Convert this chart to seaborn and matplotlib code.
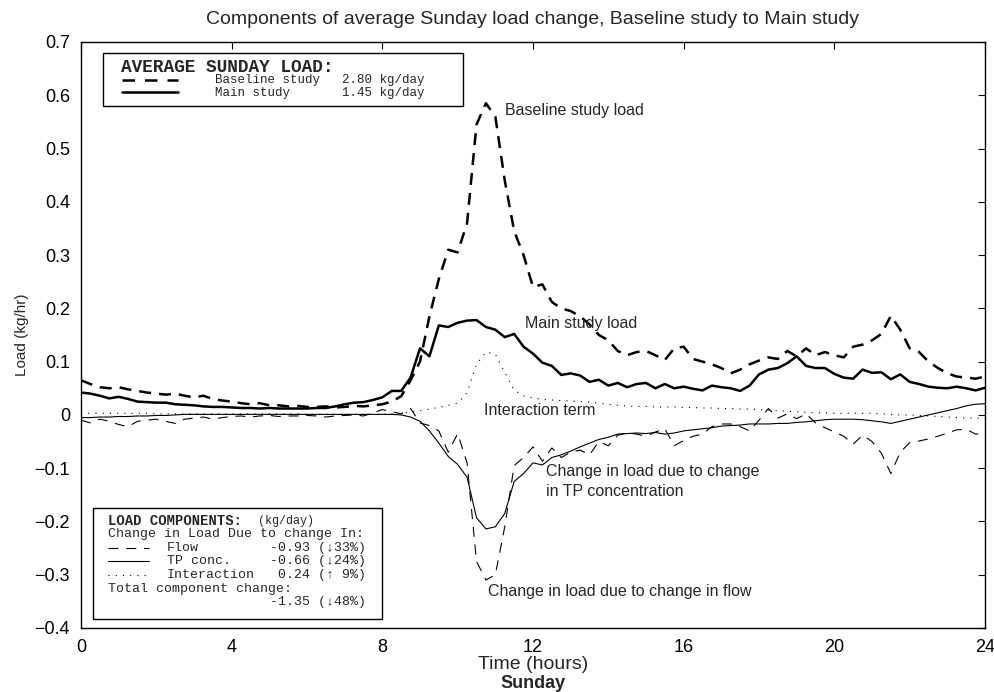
import numpy as np
import pandas as pd
import matplotlib
matplotlib.use("Agg")
import matplotlib.pyplot as plt
import seaborn as sns
from matplotlib.lines import Line2D
from matplotlib.patches import Rectangle
from matplotlib.ticker import FuncFormatter

hours = np.arange(0, 24.01, 0.25)

baseline = [
    0.065, 0.058, 0.052, 0.050,  0.052, 0.048, 0.045, 0.042,
    0.040, 0.038, 0.040, 0.036,  0.033, 0.036, 0.030, 0.027,
    0.025, 0.022, 0.020, 0.022,  0.018, 0.018, 0.016, 0.017,
    0.015, 0.015, 0.016, 0.014,  0.015, 0.017, 0.016, 0.018,
    0.020, 0.025, 0.035, 0.065,  0.100, 0.185, 0.255, 0.310,
    0.305, 0.360, 0.545, 0.585,  0.560, 0.440, 0.345, 0.300,
    0.240, 0.245, 0.212, 0.200,  0.195, 0.185, 0.170, 0.150,
    0.140, 0.120, 0.112, 0.118,  0.120, 0.112, 0.103, 0.125,
    0.128, 0.105, 0.100, 0.095,  0.088, 0.078, 0.085, 0.095,
    0.102, 0.108, 0.105, 0.120,  0.110, 0.125, 0.112, 0.118,
    0.112, 0.108, 0.128, 0.132,  0.140, 0.152, 0.186, 0.160,
    0.125, 0.118, 0.100, 0.088,  0.078, 0.072, 0.070, 0.068,
    0.072]

main = [
    0.042, 0.040, 0.036, 0.031,  0.034, 0.030, 0.025, 0.024,
    0.023, 0.023, 0.020, 0.019,  0.018, 0.016, 0.015, 0.015,
    0.014, 0.013, 0.013, 0.012,  0.013, 0.012, 0.012, 0.012,
    0.012, 0.013, 0.013, 0.016,  0.020, 0.023, 0.024, 0.028,
    0.033, 0.045, 0.045, 0.070,  0.125, 0.110, 0.168, 0.165,
    0.173, 0.177, 0.178, 0.165,  0.160, 0.146, 0.152, 0.128,
    0.115, 0.098, 0.092, 0.075,  0.078, 0.074, 0.062, 0.066,
    0.055, 0.060, 0.052, 0.058,  0.060, 0.050, 0.058, 0.050,
    0.053, 0.049, 0.046, 0.055,  0.052, 0.050, 0.045, 0.055,
    0.076, 0.085, 0.088, 0.097,  0.110, 0.092, 0.088, 0.088,
    0.077, 0.070, 0.068, 0.085,  0.079, 0.080, 0.067, 0.076,
    0.062, 0.058, 0.053, 0.051,  0.050, 0.053, 0.050, 0.046,
    0.051]

interaction = [
    0.003, 0.003, 0.003, 0.003,  0.003, 0.003, 0.003, 0.003,
    0.002, 0.002, 0.002, 0.002,  0.002, 0.002, 0.002, 0.002,
    0.002, 0.002, 0.002, 0.002,  0.002, 0.002, 0.002, 0.002,
    0.001, 0.001, 0.001, 0.001,  0.001, 0.001, 0.001, 0.001,
    0.001, 0.002, 0.003, 0.005,  0.008, 0.011, 0.014, 0.018,
    0.022, 0.042, 0.095, 0.118,  0.114, 0.080, 0.046, 0.036,
    0.032, 0.029, 0.028, 0.027,  0.026, 0.025, 0.024, 0.022,
    0.020, 0.018, 0.017, 0.016,  0.016, 0.015, 0.015, 0.015,
    0.014, 0.014, 0.013, 0.013,  0.012, 0.012, 0.011, 0.011,
    0.010, 0.009, 0.008, 0.007,  0.006, 0.005, 0.004, 0.004,
    0.003, 0.003, 0.003, 0.003,  0.003, 0.002, 0.001, 0.000,
    0.000, -0.001, -0.002, -0.003,  -0.004, -0.005, -0.006, -0.006,
    -0.007]

tp_conc = [
    -0.005, -0.005, -0.004, -0.004,  -0.003, -0.003, -0.002, -0.002,
    -0.001, -0.001, 0.000, 0.001,  0.001, 0.001, 0.001, 0.001,
    0.001, 0.001, 0.001, 0.001,  0.001, 0.001, 0.001, 0.001,
    0.001, 0.001, 0.001, 0.001,  0.001, 0.001, 0.001, 0.001,
    0.001, 0.001, 0.000, -0.004,  -0.012, -0.030, -0.053, -0.078,
    -0.093, -0.117, -0.193, -0.214,  -0.210, -0.185, -0.125, -0.110,
    -0.090, -0.094, -0.080, -0.075,  -0.068, -0.060, -0.053, -0.046,
    -0.042, -0.036, -0.035, -0.034,  -0.035, -0.033, -0.036, -0.034,
    -0.030, -0.028, -0.026, -0.024,  -0.021, -0.020, -0.019, -0.017,
    -0.017, -0.017, -0.016, -0.016,  -0.014, -0.013, -0.011, -0.009,
    -0.008, -0.008, -0.008, -0.009,  -0.011, -0.013, -0.016, -0.012,
    -0.008, -0.004, 0.000, 0.004,  0.008, 0.012, 0.017, 0.020,
    0.021]

flow = [
    -0.010, -0.015, -0.008, -0.012,  -0.018, -0.022, -0.012, -0.010,
    -0.008, -0.012, -0.016, -0.008,  -0.006, -0.004, -0.008, -0.005,
    -0.003, -0.002, -0.004, -0.002,  -0.001, -0.003, -0.002, -0.002,
    -0.001, -0.002, -0.004, -0.002,  -0.001, 0.000, -0.002, 0.004,
    0.010, 0.006, 0.002, 0.012,  -0.015, -0.020, -0.030, -0.070,
    -0.035, -0.090, -0.275, -0.310,  -0.300, -0.210, -0.095, -0.080,
    -0.060, -0.087, -0.062, -0.080,  -0.070, -0.066, -0.075, -0.050,
    -0.058, -0.038, -0.034, -0.036,  -0.040, -0.032, -0.026, -0.058,
    -0.048, -0.040, -0.036, -0.022,  -0.017, -0.017, -0.022, -0.030,
    -0.010, 0.012, -0.006, 0.002,  -0.007, 0.002, -0.015, -0.024,
    -0.032, -0.040, -0.055, -0.038,  -0.050, -0.072, -0.110, -0.070,
    -0.052, -0.049, -0.045, -0.040,  -0.034, -0.028, -0.027, -0.036,
    -0.035]

x_ticks = [0, 4, 8, 12, 16, 20, 24]
y_ticks = [-0.4, -0.3, -0.2, -0.1, 0.0, 0.1, 0.2, 0.3, 0.4, 0.5, 0.6, 0.7]

df = pd.DataFrame({"hours": hours, "baseline": baseline, "main": main,
                   "interaction": interaction, "tp": tp_conc, "flow": flow})

sns.set_style("white")
plt.rcParams["font.family"] = ["Liberation Sans", "DejaVu Sans"]

W, H = 995, 692
fig = plt.figure(figsize=(W / 100, H / 100), dpi=100)


def fx(x):
    return x / W


def fy(y):
    return 1 - y / H


ax = fig.add_axes([fx(81), fy(628), (985 - 81) / W, (628 - 42) / H])

styles = [
    ("baseline", 1.8, (0, (4.8, 3.2))),
    ("main", 1.8, "-"),
    ("interaction", 0.8, (0, (1, 5.5))),
    ("tp", 0.8, "-"),
    ("flow", 0.8, (0, (9, 7))),
]
for col, lw, ls in styles:
    sns.lineplot(data=df, x="hours", y=col, ax=ax, color="black", linewidth=lw)
    ax.lines[-1].set_linestyle(ls)

ax.set_xlim(0, 24)
ax.set_ylim(-0.4, 0.7)
ax.set_xticks(x_ticks)
ax.set_yticks(y_ticks)
ax.yaxis.set_major_formatter(FuncFormatter(
    lambda v, p: "0" if abs(v) < 1e-9 else f"{v:.1f}".replace("-", "\u2212")))
ax.tick_params(direction="in", length=5, width=0.8, top=True, right=True,
               labelsize=13, colors="black", pad=8)
for s in ax.spines.values():
    s.set_visible(True)
    s.set_color("black")
    s.set_linewidth(1.0)
ax.set_xlabel("Time (hours)", fontsize=14, labelpad=0)
ax.set_ylabel("Load (kg/hr)", fontsize=11, labelpad=4)

fig.text(fx(533), fy(683), "Sunday", fontsize=13, fontweight="bold",
         ha="center", va="center")
fig.text(fx(533), fy(19),
         "Components of average Sunday load change, Baseline study to Main study",
         fontsize=14, ha="center", va="center")

# annotations
ann = dict(fontsize=11.5, ha="left", va="center")
ax.text(11.26, 0.572, "Baseline study load", **ann)
ax.text(11.79, 0.171, "Main study load", **ann)
ax.text(10.7, 0.0075, "Interaction term", **ann)
ax.text(12.34, -0.106, "Change in load due to change", **ann)
ax.text(12.34, -0.143, "in TP concentration", **ann)
ax.text(10.8, -0.331, "Change in load due to change in flow", **ann)

mono = ["Liberation Mono", "DejaVu Sans Mono"]

# Top legend box
fig.add_artist(Rectangle((fx(103), fy(106)), (463 - 103) / W, (106 - 53) / H,
                         transform=fig.transFigure, facecolor="white",
                         edgecolor="black", linewidth=1.0, zorder=5))
fig.text(fx(121), fy(67), "AVERAGE SUNDAY LOAD:", family=mono, fontsize=12.8,
         fontweight="bold", ha="left", va="center", zorder=6)
fig.add_artist(Line2D([fx(122), fx(178)], [fy(80), fy(80)], transform=fig.transFigure,
                      color="black", linewidth=1.8, linestyle=(0, (5, 4)), zorder=6))
fig.add_artist(Line2D([fx(122), fx(178)], [fy(92), fy(92)], transform=fig.transFigure,
                      color="black", linewidth=1.8, zorder=6))
top_rows = [(80, "Baseline study", "2.80 kg/day"), (93, "Main study", "1.45 kg/day")]
for yy, name, val in top_rows:
    fig.text(fx(215), fy(yy), name, family=mono, fontsize=9,
             ha="left", va="center", zorder=6)
    fig.text(fx(342), fy(yy), val, family=mono, fontsize=9,
             ha="left", va="center", zorder=6)

# Bottom legend box
fig.add_artist(Rectangle((fx(93), fy(619)), (382 - 93) / W, (619 - 508) / H,
                         transform=fig.transFigure, facecolor="white",
                         edgecolor="black", linewidth=1.0, zorder=5))
fig.text(fx(108), fy(521), "LOAD COMPONENTS:", family=mono, fontsize=10,
         fontweight="bold", ha="left", va="center", zorder=6)
fig.text(fx(258), fy(521), "(kg/day)", family=mono, fontsize=8.5,
         ha="left", va="center", zorder=6)
fig.text(fx(108), fy(534), "Change in Load Due to change In:", family=mono,
         fontsize=9.5, ha="left", va="center", zorder=6)
rows = [
    (548, "Flow", "-0.93 (\u219333%)", 0.8, (0, (9, 7))),
    (561, "TP conc.", "-0.66 (\u219324%)", 0.8, "-"),
    (575, "Interaction", " 0.24 (\u2191 9%)", 0.8, (0, (1, 5.5))),
]
for yy, name, val, lw, ls in rows:
    fig.add_artist(Line2D([fx(108), fx(149)], [fy(yy), fy(yy)], transform=fig.transFigure,
                          color="black", linewidth=lw, linestyle=ls, zorder=6))
    fig.text(fx(167), fy(yy), name, family=mono, fontsize=9.5, ha="left",
             va="center", zorder=6)
    fig.text(fx(270), fy(yy), val, family=mono, fontsize=9.5, ha="left",
             va="center", zorder=6)
fig.text(fx(108), fy(589), "Total component change:", family=mono, fontsize=9.5,
         ha="left", va="center", zorder=6)
fig.text(fx(270), fy(602), "-1.35 (\u219348%)", family=mono, fontsize=9.5,
         ha="left", va="center", zorder=6)

fig.savefig("out.png", dpi=100, facecolor="white")
